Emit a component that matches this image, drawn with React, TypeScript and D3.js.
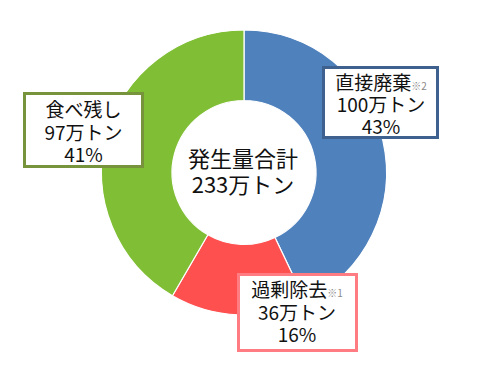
import React from "react";
import * as d3 from "d3";

const categories = ["直接廃棄", "過剰除去", "食べ残し"];
const notes = ["※2", "※1", ""];
const values = [100, 36, 97];
const percents = ["43%", "16%", "41%"];
const totalLabel = ["発生量合計", "233万トン"];

const sliceColors = ["#4f81bd", "#ff5050", "#80bf35"];
const borderColors = ["#3e6190", "#ff7d82", "#77933c"];

// label box layout (outer bounds)
const boxes = [
  { x0: 322, x1: 439, y0: 66, y1: 139, cx: 381, top: 80.7 },
  { x0: 237, x1: 358, y0: 273, y1: 352, cx: 297, top: 288.3 },
  { x0: 23, x1: 144, y0: 92, y1: 168, cx: 83.5, top: 108.3 },
];
const lineGap = 22.3;

const W = 488;
const H = 376;
const cx = 244;
const cy = 172.5;
const outerR = 142.5;
const innerR = 72;
const font = "'Noto Sans CJK JP', 'Noto Sans', sans-serif";

export default function App() {
  const pie = d3.pie<number>().sort(null).value((d) => d);
  const arcs = pie(values);
  const arc = d3.arc<d3.PieArcDatum<number>>().innerRadius(innerR).outerRadius(outerR);

  return (
    <svg
      width={W}
      height={H}
      style={{ position: "absolute", left: 0, top: 0, background: "#fff" }}
      fontFamily={font}
    >
      <g transform={`translate(${cx},${cy})`}>
        {arcs.map((a, i) => (
          <path key={i} d={arc(a) || ""} fill={sliceColors[i]} stroke="#fff" strokeWidth={1.2} />
        ))}
      </g>
      <text textAnchor="middle" dominantBaseline="central" fontSize={22} fill="#111">
        <tspan x={243} y={156.7}>{totalLabel[0]}</tspan>
        <tspan x={243} y={183.3}>{totalLabel[1]}</tspan>
      </text>
      {boxes.map((b, i) => (
        <g key={i}>
          <rect
            x={b.x0 + 1.5}
            y={b.y0 + 1.5}
            width={b.x1 - b.x0 - 3}
            height={b.y1 - b.y0 - 3}
            fill="#fff"
            stroke={borderColors[i]}
            strokeWidth={3}
          />
          <text textAnchor="middle" dominantBaseline="central" fontSize={19} fill="#111">
            <tspan x={b.cx} y={b.top}>
              {categories[i]}
              {notes[i] && (
                <tspan fontSize={10} fill="#8a8a8a" dy={4}>
                  {notes[i]}
                </tspan>
              )}
            </tspan>
            <tspan x={b.cx} y={b.top + lineGap}>{`${values[i]}万トン`}</tspan>
            <tspan x={b.cx} y={b.top + lineGap * 2}>{percents[i]}</tspan>
          </text>
        </g>
      ))}
    </svg>
  );
}
